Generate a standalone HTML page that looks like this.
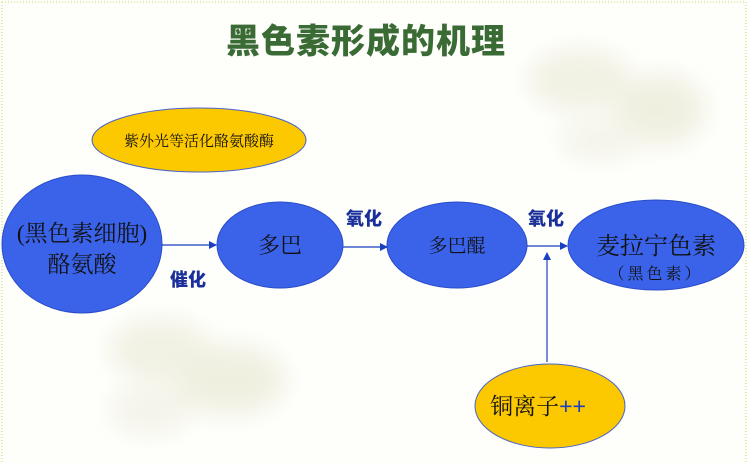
<!DOCTYPE html>
<html><head><meta charset="utf-8"><style>
html,body{margin:0;padding:0;background:#fff;}
svg{display:block;}
</style></head><body>
<svg width="750" height="463" viewBox="0 0 750 463" xmlns="http://www.w3.org/2000/svg" font-family="'Liberation Serif','Noto Serif CJK SC',serif">
<defs>
<filter id="bl" x="-50%" y="-50%" width="200%" height="200%"><feGaussianBlur stdDeviation="12"/></filter>
<marker id="ar" markerWidth="8" markerHeight="8" refX="7" refY="4" orient="auto" markerUnits="userSpaceOnUse"><path d="M0,0 L8,4 L0,8 z" fill="#1a3fc0"/></marker>
</defs>
<rect x="0" y="0" width="750" height="463" fill="#fefefb"/>
<g filter="url(#bl)" opacity="0.35">
<ellipse cx="580" cy="80" rx="50" ry="30" fill="#d8d8b8"/>
<ellipse cx="660" cy="110" rx="45" ry="35" fill="#d4d6b0"/>
<ellipse cx="600" cy="140" rx="40" ry="20" fill="#e2e2cc"/>
<ellipse cx="160" cy="350" rx="50" ry="30" fill="#d8d8b8"/>
<ellipse cx="230" cy="380" rx="55" ry="35" fill="#d4d6b0"/>
<ellipse cx="150" cy="410" rx="40" ry="25" fill="#e2e2cc"/>
</g>
<rect x="2" y="2" width="744" height="470" fill="none" stroke="#c8d860" stroke-width="1" stroke-dasharray="1,2"/>
<text x="366" y="53" text-anchor="middle" font-size="34" font-weight="900" fill="#3a6b35" letter-spacing="1" font-family="'Noto Sans CJK SC',sans-serif">黑色素形成的机理</text>

<ellipse cx="199" cy="140" rx="107" ry="32" fill="#fcc800" stroke="#4a64c8" stroke-width="1"/>
<text x="199" y="146" text-anchor="middle" font-size="15" fill="#111">紫外光等活化酪氨酸酶</text>

<ellipse cx="82" cy="244" rx="80" ry="69" fill="#3a63ea" stroke="#2a4cc8"/>
<text x="82" y="241" text-anchor="middle" font-size="23" fill="#111">(黑色素细胞)</text>
<text x="82" y="272" text-anchor="middle" font-size="23" fill="#111">酪氨酸</text>

<ellipse cx="280" cy="245" rx="63" ry="43" fill="#3a63ea" stroke="#2a4cc8"/>
<text x="280" y="253" text-anchor="middle" font-size="22" fill="#111">多巴</text>

<ellipse cx="457" cy="245" rx="70" ry="43" fill="#3a63ea" stroke="#2a4cc8"/>
<text x="457" y="252" text-anchor="middle" font-size="19" fill="#111">多巴醌</text>

<ellipse cx="656" cy="245" rx="88" ry="45" fill="#3a63ea" stroke="#2a4cc8"/>
<text x="656" y="254" text-anchor="middle" font-size="24" fill="#111">麦拉宁色素</text>
<text x="656" y="279" text-anchor="middle" font-size="16" fill="#111" letter-spacing="3">（黑色素）</text>

<ellipse cx="550" cy="406" rx="75" ry="42" fill="#fcc800" stroke="#4a64c8"/>
<text x="538" y="414" text-anchor="middle" font-size="23" fill="#111">铜离子<tspan fill="#1a3fc0" font-family="'Liberation Sans',sans-serif">++</tspan></text>

<line x1="162" y1="245" x2="216" y2="245" stroke="#1a3fc0" stroke-width="1.2" marker-end="url(#ar)"/>
<line x1="343" y1="247" x2="387" y2="247" stroke="#1a3fc0" stroke-width="1.2" marker-end="url(#ar)"/>
<line x1="527" y1="246" x2="567" y2="246" stroke="#1a3fc0" stroke-width="1.2" marker-end="url(#ar)"/>
<line x1="547" y1="362" x2="547" y2="253" stroke="#1a3fc0" stroke-width="1.2" marker-end="url(#ar)"/>

<g font-family="'Noto Sans CJK SC',sans-serif" font-weight="900" font-size="18" fill="#1a2f9a" text-anchor="middle">
<text x="188" y="286">催化</text>
<text x="364" y="225">氧化</text>
<text x="546" y="225">氧化</text>
</g>
</svg>
</body></html>
